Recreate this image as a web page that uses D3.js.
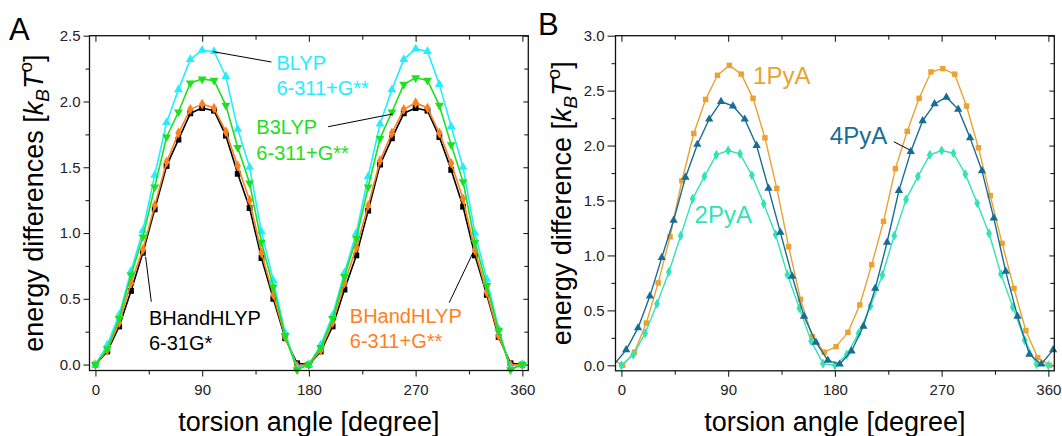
<!DOCTYPE html>
<html>
<body>

<script src="https://d3js.org/d3.v7.min.js"></script>
<style>
  body { margin: 0; background: #fff; }
  text { font-family: "Liberation Sans", Arial, sans-serif; }
</style>

<script>

var W = 1062, H = 436;

// ---- panel A : same torsion grid for all four methods ----
var anglesA = [0,10,20,30,40,50,60,70,80,90,100,110,120,130,140,150,160,170,180,
               190,200,210,220,230,240,250,260,270,280,290,300,310,320,330,340,350,360];

var bhh631 = [0,0.10,0.29,0.56,0.85,1.18,1.51,1.71,1.91,1.95,1.93,1.74,1.45,1.19,0.81,0.50,0.20,0.01,0,
              0.10,0.29,0.57,0.83,1.17,1.52,1.72,1.91,1.95,1.93,1.73,1.48,1.20,0.83,0.53,0.21,0.01,0];
var bhh6311 = [0,0.11,0.32,0.62,0.875,1.21,1.54,1.76,1.94,1.98,1.95,1.77,1.51,1.25,0.85,0.53,0.21,-0.01,0,
               0.11,0.32,0.62,0.89,1.21,1.55,1.76,1.94,1.99,1.95,1.76,1.53,1.26,0.87,0.55,0.22,-0.005,0];
var b3lyp = [0,0.12,0.35,0.68,0.97,1.35,1.73,1.92,2.14,2.17,2.16,1.97,1.65,1.38,0.93,0.59,0.22,-0.04,0,
             0.13,0.35,0.67,0.96,1.35,1.72,1.92,2.13,2.18,2.16,1.97,1.67,1.39,0.93,0.60,0.26,-0.04,0];
var blyp = [0,0.15,0.38,0.71,1.02,1.44,1.84,2.09,2.32,2.39,2.38,2.19,1.79,1.50,1.01,0.64,0.24,-0.03,0,
            0.15,0.375,0.70,1.00,1.43,1.83,2.09,2.32,2.40,2.38,2.13,1.81,1.50,1.00,0.65,0.27,-0.03,0];

// ---- panel B : the three pyridine amides, each on its own grid ----
var angles1PyA = [-9,1,11,21,31,41,51,61,71,81,91,101,111,121,131,141,151,161,171,181,
                  191,201,211,221,231,241,251,261,271,281,291,301,311,321,331,341,351,361];
var e1PyA = [0.07,0,0.12,0.385,0.75,1.17,1.68,2.11,2.42,2.64,2.73,2.65,2.43,2.07,1.61,1.08,0.60,0.26,0.12,0.17,
             0.30,0.55,0.915,1.31,1.79,2.13,2.43,2.67,2.70,2.65,2.36,1.98,1.545,1.11,0.70,0.315,0.07,0];

var angles4PyA = [-6,4,14,24,34,44,54,64,74,84,94,104,114,124,134,144,154,164,174,184,
                  194,204,214,224,234,244,254,264,274,284,294,304,314,324,334,344,354,364];
var e4PyA = [0.01,0.14,0.34,0.63,0.98,1.32,1.71,2.01,2.24,2.40,2.36,2.24,2.00,1.61,1.21,0.81,0.445,0.21,0.045,0.01,
             0.13,0.355,0.70,1.12,1.59,1.945,2.225,2.38,2.44,2.33,2.07,1.77,1.34,0.855,0.445,0.10,0.01,0.14];

var angles2PyA = anglesA;
var e2PyA = [0,0.097,0.29,0.56,0.85,1.18,1.515,1.72,1.915,1.955,1.925,1.73,1.47,1.19,0.825,0.52,0.22,0.015,0,
             0.097,0.29,0.54,0.82,1.18,1.51,1.72,1.915,1.955,1.93,1.74,1.475,1.20,0.83,0.53,0.23,0.01,0];

// ticks
var xMajor = [0, 90, 180, 270, 360];
var xMinor = [45, 135, 225, 315];
var yMajorA = [0, 0.5, 1.0, 1.5, 2.0, 2.5];
var yMinorA = [0.25, 0.75, 1.25, 1.75, 2.25];
var yMajorB = [0, 0.5, 1.0, 1.5, 2.0, 2.5, 3.0];
var yMinorB = [0.25, 0.75, 1.25, 1.75, 2.25, 2.75];

var svg = d3.select("body")
            .append("svg")
            .attr("width", W)
            .attr("height", H);

var panels = [
  {
    id: "A", left: 89.5, right: 528.3, top: 35.7, bottom: 370.5, yDomain: [-0.045, 2.5],
    yMajor: yMajorA, yMinor: yMinorA, letterX: 9, letterY: 40, ylabX: 43,
    ylab: "energy differences [", leftTick: 6, lineW: 1.6, msize: 34,
    series: [
      {x: anglesA, y: bhh631,  color: "#000000", sym: d3.symbolSquare,  rot: 0},
      {x: anglesA, y: bhh6311, color: "#ff7f1e", sym: d3.symbolDiamond, rot: 0},
      {x: anglesA, y: blyp,    color: "#22eeff", sym: d3.symbolTriangle, rot: 0},
      {x: anglesA, y: b3lyp,   color: "#1ee01e", sym: d3.symbolTriangle, rot: 180}
    ],
    notes: [
      {lines: ["BLYP", "6-311+G**"], x: 152.6, y: 2.24, color: "#22eeff", size: 20},
      {lines: ["B3LYP", "6-311+G**"], x: 135.7, y: 1.749, color: "#1ee01e", size: 20},
      {lines: ["BHandHLYP", "6-31G*"], x: 45.1, y: 0.301, color: "#000000", size: 20},
      {lines: ["BHandHLYP", "6-311+G**"], x: 214.5, y: 0.3185, color: "#ff7f1e", size: 20}
    ],
    leaders: [
      [99.1, 2.379, 148.4, 2.30],
      [196.2, 1.808, 250.6, 1.905],
      [42.3, 0.82, 47.1, 0.478],
      [318.1, 0.846, 298.3, 0.4705]
    ]
  },
  {
    id: "B", left: 615.5, right: 1054.3, top: 35.7, bottom: 370.8, yDomain: [-0.05, 3.0],
    yMajor: yMajorB, yMinor: yMinorB, letterX: 538, letterY: 35, ylabX: 571,
    ylab: "energy difference [", leftTick: 8, lineW: 1.4, msize: 30,
    series: [
      {x: angles1PyA, y: e1PyA, color: "#eba232", sym: d3.symbolSquare,  rot: 0},
      {x: angles2PyA, y: e2PyA, color: "#33e3b6", sym: d3.symbolDiamond, rot: 0},
      {x: angles4PyA, y: e4PyA, color: "#176d93", sym: d3.symbolTriangle, rot: 0}
    ],
    notes: [
      {lines: ["1PyA"], x: 111.0, y: 2.56, color: "#eba232", size: 24},
      {lines: ["4PyA"], x: 175.7, y: 2.014, color: "#176d93", size: 24},
      {lines: ["2PyA"], x: 61.7, y: 1.298, color: "#33e3b6", size: 24}
    ],
    leaders: [
      [229.7, 2.035, 243.2, 1.96]
    ]
  }
];

panels.forEach(drawPanel);

function drawPanel(p) {
  var x = d3.scaleLinear().domain([-5, 365]).range([p.left, p.right]);
  var y = d3.scaleLinear().domain(p.yDomain).range([p.bottom, p.top]);

  var g = svg.append("g");

  g.append("clipPath")
   .attr("id", "clip" + p.id)
   .append("rect")
   .attr("x", p.left).attr("y", p.top)
   .attr("width", p.right - p.left).attr("height", p.bottom - p.top);

  // axes (ticks out on bottom/left, in on top/right)
  var fmtY = d3.format(".1f");
  var axes = [
    {ax: d3.axisBottom(x).tickValues(xMajor).tickSize(6).tickPadding(8).tickFormat(d3.format("d")), t: "translate(0," + p.bottom + ")"},
    {ax: d3.axisBottom(x).tickValues(xMinor).tickSize(4).tickFormat(""), t: "translate(0," + p.bottom + ")"},
    {ax: d3.axisTop(x).tickValues(xMajor).tickSize(-6).tickFormat(""), t: "translate(0," + p.top + ")"},
    {ax: d3.axisTop(x).tickValues(xMinor).tickSize(-4).tickFormat(""), t: "translate(0," + p.top + ")"},
    {ax: d3.axisLeft(y).tickValues(p.yMajor).tickSize(p.leftTick).tickPadding(3).tickFormat(fmtY), t: "translate(" + p.left + ",0)"},
    {ax: d3.axisLeft(y).tickValues(p.yMinor).tickSize(4).tickFormat(""), t: "translate(" + p.left + ",0)"},
    {ax: d3.axisRight(y).tickValues(p.yMajor).tickSize(-5).tickFormat(""), t: "translate(" + p.right + ",0)"},
    {ax: d3.axisRight(y).tickValues(p.yMinor).tickSize(-4).tickFormat(""), t: "translate(" + p.right + ",0)"}
  ];
  axes.forEach(function(a) {
    var ag = g.append("g").attr("transform", a.t).call(a.ax);
    ag.select(".domain").remove();
    ag.selectAll("line").attr("stroke", "#222").attr("stroke-width", 1.1);
    ag.selectAll("text").attr("font-size", 15).attr("fill", "#222")
      .style("font-family", '"Liberation Sans", Arial, sans-serif');
  });

  // series
  p.series.forEach(function(s) {
    var pts = s.x.map(function(d, i) { return [d, s.y[i]]; });
    g.append("path")
     .datum(pts)
     .attr("clip-path", "url(#clip" + p.id + ")")
     .attr("fill", "none")
     .attr("stroke", s.color)
     .attr("stroke-width", p.lineW)
     .attr("stroke-linejoin", "round")
     .attr("d", d3.line().x(function(d) { return x(d[0]); }).y(function(d) { return y(d[1]); }));

    var sym = d3.symbol().type(s.sym).size(p.msize);
    g.selectAll(null)
     .data(pts.filter(function(d) { return d[0] >= -5 && d[0] <= 365; }))
     .enter()
     .append("path")
     .attr("d", sym)
     .attr("fill", s.color)
     .attr("transform", function(d) {
       return "translate(" + x(d[0]) + "," + y(d[1]) + ") rotate(" + s.rot + ")";
     });
  });

  // frame
  g.append("rect")
   .attr("x", p.left).attr("y", p.top)
   .attr("width", p.right - p.left).attr("height", p.bottom - p.top)
   .attr("fill", "none").attr("stroke", "#111").attr("stroke-width", 1.3);

  // leader lines + labels
  p.leaders.forEach(function(l) {
    g.append("line")
     .attr("x1", x(l[0])).attr("y1", y(l[1]))
     .attr("x2", x(l[2])).attr("y2", y(l[3]))
     .attr("stroke", "#000").attr("stroke-width", 1);
  });
  p.notes.forEach(function(n) {
    var t = g.append("text")
             .attr("x", x(n.x)).attr("y", y(n.y))
             .attr("fill", n.color)
             .attr("font-size", n.size);
    n.lines.forEach(function(s, i) {
      t.append("tspan").attr("x", x(n.x)).attr("dy", i == 0 ? 0 : 25.5).text(s);
    });
  });

  // axis titles
  g.append("text")
   .attr("x", (p.left + p.right) / 2).attr("y", 431)
   .attr("text-anchor", "middle")
   .attr("font-size", 27)
   .text("torsion angle [degree]");

  var yl = g.append("text")
            .attr("transform", "translate(" + p.ylabX + "," + ((p.top + p.bottom) / 2) + ") rotate(-90)")
            .attr("text-anchor", "middle")
            .attr("font-size", 27);
  yl.append("tspan").text(p.ylab);
  yl.append("tspan").attr("font-style", "italic").text("k");
  yl.append("tspan").attr("font-style", "italic").attr("font-size", 19).attr("dy", 6).text("B");
  yl.append("tspan").attr("font-style", "italic").attr("dy", -6).text("T");
  yl.append("tspan").attr("font-size", 19).attr("dy", -11).text("o");
  yl.append("tspan").attr("dy", 11).text("]");

  // panel letter
  g.append("text")
   .attr("x", p.letterX).attr("y", p.letterY)
   .attr("font-size", 31)
   .text(p.id);
}

</script>
</body>
</html>
